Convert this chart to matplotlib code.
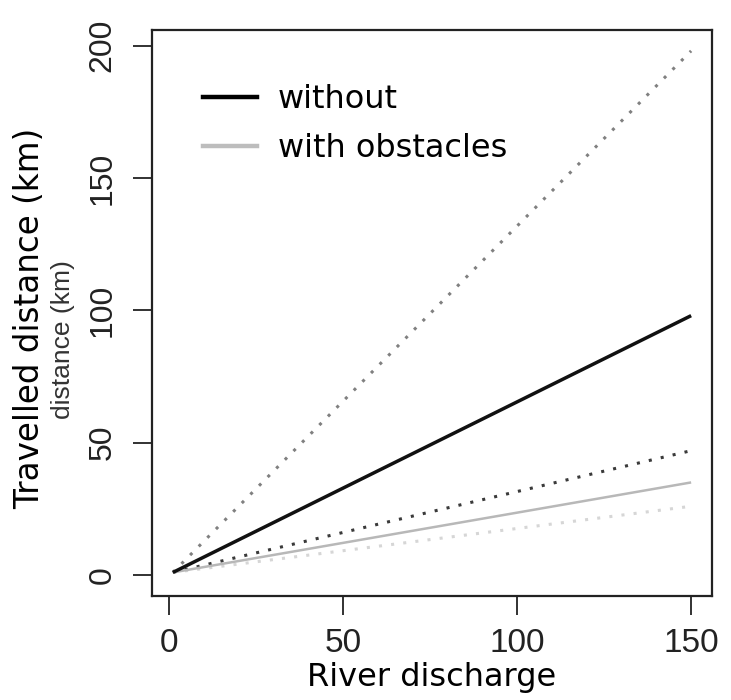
import matplotlib
matplotlib.use("Agg")
import matplotlib.pyplot as plt

# ---- data ----
discharge = [1, 150]
without_mid = [1, 98]        # solid black
without_high = [1, 198]      # dotted grey (steep)
without_low = [1, 47]        # dotted dark
obstacles_mid = [1, 35]      # solid light grey
obstacles_low = [1, 26]      # dotted very light grey

x_ticks = [0, 50, 100, 150]
y_ticks = [0, 50, 100, 150, 200]
legend_labels = ["without", "with obstacles"]

W, H = 731, 700
fig = plt.figure(figsize=(W / 100, H / 100), dpi=100)
L, R, T, B = 152, 712, 30, 596
ax = fig.add_axes([L / W, 1 - B / H, (R - L) / W, (B - T) / H])

dot = (0, (1, 3))
ax.plot(discharge, without_high, color="#808080", lw=2.2, linestyle=dot)
ax.plot(discharge, without_low, color="#3a3a3a", lw=2.2, linestyle=dot)
ax.plot(discharge, obstacles_low, color="#d6d6d6", lw=2.2, linestyle=dot)
ax.plot(discharge, obstacles_mid, color="#b8b8b8", lw=1.8, solid_capstyle="butt")
ax.plot(discharge, without_mid, color="#111111", lw=2.5, solid_capstyle="butt")

ax.set_xlim(-5, 156)
ax.set_ylim(-7.9, 205.9)
ax.set_xticks(x_ticks)
ax.set_yticks(y_ticks)
ax.set_xticklabels([str(v) for v in x_ticks], fontfamily="Liberation Sans",
                   fontsize=24, color="#222222")
ax.set_yticklabels([str(v) for v in y_ticks], fontfamily="Liberation Sans",
                   fontsize=23, color="#222222", rotation=90, va="center")
ax.tick_params(axis="both", direction="out", length=14, width=1.3, color="#222222")
ax.tick_params(axis="x", pad=9)
ax.tick_params(axis="y", pad=11)
for s in ax.spines.values():
    s.set_linewidth(1.6)
    s.set_color("#222222")

# legend
h1, = ax.plot([], [], color="#000000", lw=3.2)
h2, = ax.plot([], [], color="#bdbdbd", lw=3.2)
leg = ax.legend([h1, h2], legend_labels, loc="upper left",
                bbox_to_anchor=(203 / W, 1 - 84 / H), bbox_transform=fig.transFigure,
                frameon=False, borderpad=0, borderaxespad=0, handlelength=1.7,
                handletextpad=0.65, labelspacing=0.57,
                prop={"family": "DejaVu Sans", "size": 23})

# axis labels
fig.text(432 / W, 1 - 686 / H, "River discharge", ha="center", va="baseline",
         fontfamily="DejaVu Sans", fontsize=23, color="#000000")
fig.text(30 / W, 1 - 318 / H, "Travelled distance (km)", ha="center", va="center",
         rotation=90, fontfamily="DejaVu Sans", fontsize=23.5, color="#000000")
fig.text(63 / W, 1 - 340 / H, "distance (km)", ha="center", va="center",
         rotation=90, fontfamily="Liberation Sans", fontsize=19, color="#333333")

fig.savefig("out.png", dpi=100)
